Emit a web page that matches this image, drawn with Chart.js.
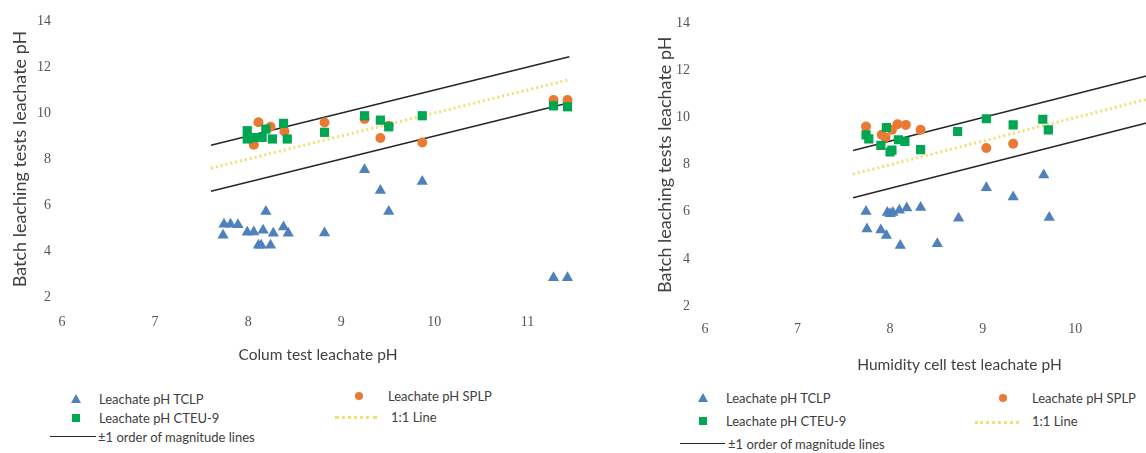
<!DOCTYPE html>
<html>
<head>
<meta charset="utf-8">
<script src="https://cdn.jsdelivr.net/npm/chart.js@4.4.0/dist/chart.umd.min.js"></script>
<style>
  body { margin: 0; width: 1146px; height: 453px; overflow: hidden; background: #fff; position: relative; font-family: Lato, sans-serif; color: #404040; }
  .wrap { position: absolute; top: 0; }
  .txt { position: absolute; font-size: 13px; line-height: 16px; white-space: nowrap; color: #404040; }
  .mk { position: absolute; }
  .tri { width: 0; height: 0; border-left: 5px solid transparent; border-right: 5px solid transparent; border-bottom: 9px solid #4f81bd; }
  .sq { width: 8px; height: 8px; background: #00a651; }
  .dot { width: 8px; height: 8px; border-radius: 50%; background: #e87a34; }
  .ln { height: 0; border-top: 1.5px solid #262626; }
  .dl { height: 0; border-top: 3px dotted #f0e070; }
</style>
</head>
<body>
<div class="wrap" style="left:0;width:600px;height:370px"><canvas id="colChart" width="600" height="370"></canvas></div>
<div class="wrap" style="left:645px;width:590px;height:380px"><canvas id="humChart" width="590" height="380"></canvas></div>

<!-- legend, column test -->
<div class="mk tri" style="left:71px;top:394px"></div><div class="txt" style="left:99px;top:391px">Leachate pH TCLP</div>
<div class="mk sq" style="left:72px;top:414px"></div><div class="txt" style="left:99px;top:410px">Leachate pH CTEU-9</div>
<div class="mk ln" style="left:50px;top:436px;width:46px"></div><div class="txt" style="left:98px;top:429px">±1 order of magnitude lines</div>
<div class="mk dot" style="left:355px;top:392px"></div><div class="txt" style="left:388px;top:388px">Leachate pH SPLP</div>
<div class="mk dl" style="left:335px;top:416px;width:42px"></div><div class="txt" style="left:391px;top:409px">1:1 Line</div>

<!-- legend, humidity cell test -->
<div class="mk tri" style="left:698px;top:393px"></div><div class="txt" style="left:726px;top:390px">Leachate pH TCLP</div>
<div class="mk sq" style="left:699px;top:417px"></div><div class="txt" style="left:726px;top:413px">Leachate pH CTEU-9</div>
<div class="mk ln" style="left:680px;top:443px;width:45px"></div><div class="txt" style="left:728px;top:436px">±1 order of magnitude lines</div>
<div class="mk dot" style="left:999px;top:394px"></div><div class="txt" style="left:1032px;top:390px">Leachate pH SPLP</div>
<div class="mk dl" style="left:975px;top:421px;width:44px"></div><div class="txt" style="left:1032px;top:413px">1:1 Line</div>

<script>
// reference lines (same for both panels)
var lineX = [7.6, 11.45];
var upperY = [8.6, 12.45];
var oneToOneY = [7.6, 11.45];
var lowerY = [6.6, 10.45];

// column test panel
var colTclpX = [7.74, 7.73, 7.81, 7.89, 7.99, 8.06, 8.16, 8.19, 8.11, 8.14, 8.24, 8.27, 8.38, 8.43, 8.82, 9.25, 9.42, 9.51, 9.87, 11.28, 11.43];
var colTclpY = [5.16, 4.68, 5.16, 5.14, 4.81, 4.83, 4.90, 5.72, 4.25, 4.25, 4.25, 4.77, 5.04, 4.77, 4.78, 7.53, 6.63, 5.72, 7.02, 2.84, 2.84];
var colSplpX = [8.06, 8.11, 8.24, 8.39, 8.82, 9.25, 9.42, 9.51, 9.87, 11.28, 11.43];
var colSplpY = [8.62, 9.60, 9.40, 9.20, 9.59, 9.74, 8.91, 9.45, 8.72, 10.56, 10.56];
var colCteuX = [7.99, 7.99, 8.06, 8.15, 8.19, 8.26, 8.38, 8.42, 8.82, 9.25, 9.42, 9.51, 9.87, 11.28, 11.43];
var colCteuY = [9.23, 8.87, 8.93, 8.94, 9.30, 8.87, 9.55, 8.87, 9.16, 9.88, 9.69, 9.40, 9.88, 10.31, 10.27];

// humidity cell test panel
var humTclpX = [7.74, 7.75, 7.90, 7.96, 7.97, 8.00, 8.03, 8.10, 8.18, 8.11, 8.33, 8.51, 8.74, 9.04, 9.33, 9.66, 9.72];
var humTclpY = [6.01, 5.27, 5.23, 4.99, 5.97, 5.92, 5.97, 6.07, 6.16, 4.57, 6.18, 4.64, 5.73, 7.02, 6.63, 7.56, 5.76];
var humSplpX = [7.74, 7.91, 7.95, 8.02, 8.08, 8.17, 8.33, 9.04, 9.33];
var humSplpY = [9.62, 9.27, 9.16, 9.48, 9.72, 9.69, 9.48, 8.71, 8.89];
var humCteuX = [7.74, 7.77, 7.90, 7.96, 8.00, 8.02, 8.09, 8.16, 8.33, 8.73, 9.04, 9.33, 9.65, 9.71];
var humCteuY = [9.27, 9.10, 8.82, 9.58, 8.54, 8.62, 9.06, 8.99, 8.64, 9.41, 9.95, 9.69, 9.93, 9.48];

var xTicks = [6, 7, 8, 9, 10, 11];
var yTicks = [2, 4, 6, 8, 10, 12, 14];

function pts(xs, ys) {
  return xs.map(function(x, i){ return {x: x, y: ys[i]}; });
}

function lineSet(label, ys, color, width, dash) {
  return {
    label: label, data: pts(lineX, ys), showLine: true, pointRadius: 0,
    borderColor: color, borderWidth: width, borderDash: dash || [], order: 5
  };
}

function makeChart(id, c) {
  var tickFont = {family: 'Liberation Serif', size: 14};
  return new Chart(document.getElementById(id), {
    type: 'scatter',
    data: {
      datasets: [
        {label: 'Leachate pH CTEU-9', data: pts(c.cteuX, c.cteuY), pointStyle: 'rect', pointRadius: 6.5,
          backgroundColor: '#00a651', borderColor: '#00a651', borderWidth: 0, order: 1},
        {label: 'Leachate pH SPLP', data: pts(c.splpX, c.splpY), pointStyle: 'circle', pointRadius: 5,
          backgroundColor: '#e87a34', borderColor: '#e87a34', borderWidth: 0, order: 2},
        {label: 'Leachate pH TCLP', data: pts(c.tclpX, c.tclpY), pointStyle: 'triangle', pointRadius: 6.5,
          backgroundColor: '#4f81bd', borderColor: '#4f81bd', borderWidth: 0, order: 3},
        lineSet('+1 order of magnitude', upperY, '#262626', 1.5),
        lineSet('1:1 Line', oneToOneY, '#f0e070', 3, [2, 3]),
        lineSet('-1 order of magnitude', lowerY, '#262626', 1.5)
      ]
    },
    options: {
      responsive: false,
      animation: false,
      layout: {padding: {left: 8, top: 21, right: c.padRight, bottom: 0}},
      plugins: {legend: {display: false}, tooltip: {enabled: false}},
      scales: {
        x: {
          type: 'linear', min: 6, max: 11.5,
          grid: {display: false, drawTicks: false},
          border: {display: false},
          afterBuildTicks: function(s){ s.ticks = xTicks.map(function(v){ return {value: v}; }); },
          ticks: {padding: c.xPad, color: '#555555', font: tickFont},
          title: {display: true, text: c.xTitle, color: '#404040',
            font: {family: 'Lato', size: 15.5}, padding: {top: 0, bottom: 6}},
          afterFit: function(s){ s.height = c.xH; }
        },
        y: {
          type: 'linear', min: 2, max: 14,
          grid: {display: false, drawTicks: false},
          border: {display: false},
          afterBuildTicks: function(s){ s.ticks = yTicks.map(function(v){ return {value: v}; }); },
          ticks: {padding: c.yPad, color: '#555555', font: tickFont},
          title: {display: true, text: 'Batch leaching tests leachate pH', color: '#404040',
            font: {family: 'Lato', size: 18}, padding: {top: 1, bottom: 0}},
          afterFit: function(s){ s.width = c.yW; }
        }
      }
    }
  });
}

makeChart('colChart', {
  tclpX: colTclpX, tclpY: colTclpY, splpX: colSplpX, splpY: colSplpY, cteuX: colCteuX, cteuY: colCteuY,
  xTitle: 'Colum test leachate pH', padRight: 26, xH: 73, xPad: 17, yW: 54, yPad: 11
});
makeChart('humChart', {
  tclpX: humTclpX, tclpY: humTclpY, splpX: humSplpX, splpY: humSplpY, cteuX: humCteuX, cteuY: humCteuY,
  xTitle: 'Humidity cell test leachate pH', padRight: 21, xH: 74, xPad: 15, yW: 52, yPad: 15
});
</script>
</body>
</html>
